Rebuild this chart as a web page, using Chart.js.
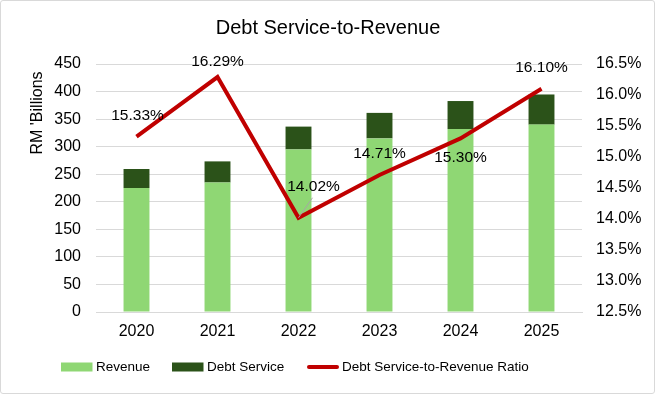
<!DOCTYPE html>
<html>
<head>
<meta charset="utf-8">
<script src="https://cdn.jsdelivr.net/npm/chart.js@4"></script>
<style>
html,body{margin:0;padding:0;background:#fff;}
#wrap{position:relative;width:655px;height:394px;}
#wrap:after{content:"";position:absolute;left:0;top:0;right:0;bottom:0;border:1px solid #d9d9d9;border-radius:3px;pointer-events:none;box-sizing:border-box;}
canvas{display:block;}
</style>
</head>
<body>
<div id="wrap"><canvas id="c" width="655" height="394"></canvas></div>
<script>
const categories = ['2020','2021','2022','2023','2024','2025'];
const revenue = [225, 235, 295, 315, 332, 340];
const debtService = [34.5, 38.3, 41.4, 46.3, 50.8, 54.7];
const ratio = [15.33, 16.29, 14.02, 14.71, 15.30, 16.10];
const leftTicks = [0,50,100,150,200,250,300,350,400,450];
const rightTicks = [12.5,13.0,13.5,14.0,14.5,15.0,15.5,16.0,16.5];

const FONT = '"Liberation Sans", Arial, sans-serif';
const labelOffsets = [[1,-21],[0,-15.5],[15,-31],[0,-21],[0,19],[0,-21]];

const overlay = {
  id:'overlay',
  afterDraw(chart){
    const ctx = chart.ctx;
    ctx.save();
    // title
    ctx.fillStyle = '#000';
    ctx.font = '20px ' + FONT;
    ctx.textAlign = 'center';
    ctx.textBaseline = 'middle';
    ctx.fillText('Debt Service-to-Revenue', 328, 28);
    // y axis title
    ctx.save();
    ctx.translate(38, 113);
    ctx.rotate(-Math.PI/2);
    ctx.font = '16px ' + FONT;
    ctx.fillText("RM 'Billions", 0, 0);
    ctx.restore();
    // data labels
    const meta = chart.getDatasetMeta(2);
    ctx.font = '15.5px ' + FONT;
    meta.data.forEach((pt, i) => {
      const [dx, dy] = labelOffsets[i];
      if (i === 2) {
        ctx.strokeStyle = '#a6a6a6';
        ctx.lineWidth = 1;
        ctx.beginPath();
        ctx.moveTo(pt.x, pt.y);
        ctx.lineTo(pt.x + 14, pt.y - 20);
        ctx.stroke();
      }
      ctx.fillStyle = '#000';
      ctx.fillText(ratio[i].toFixed(2) + '%', pt.x + dx, pt.y + dy);
    });
    // legend
    const items = [
      {x:61, type:'box', color:'#8fd774', text:'Revenue'},
      {x:172, type:'box', color:'#2b5219', text:'Debt Service'},
      {x:307, type:'line', color:'#c00000', text:'Debt Service-to-Revenue Ratio'}
    ];
    const ly = 367;
    ctx.textAlign = 'left';
    ctx.font = '13.5px ' + FONT;
    items.forEach(it => {
      if (it.type === 'box') {
        ctx.fillStyle = it.color;
        ctx.fillRect(it.x, ly - 4.5, 31.5, 9);
      } else {
        ctx.strokeStyle = it.color;
        ctx.lineWidth = 4;
        ctx.lineCap = 'round';
        ctx.beginPath();
        ctx.moveTo(it.x + 2, ly); ctx.lineTo(it.x + 30, ly);
        ctx.stroke();
      }
      ctx.fillStyle = '#000';
      ctx.fillText(it.text, it.x + 35, ly);
    });
    ctx.restore();
  }
};

new Chart(document.getElementById('c'), {
  data: {
    labels: categories,
    datasets: [
      {type:'bar', label:'Revenue', data: revenue, backgroundColor:'#8fd774', stack:'s', yAxisID:'y',
       barPercentage:0.32, categoryPercentage:1.0, order:1},
      {type:'bar', label:'Debt Service', data: debtService, backgroundColor:'#2b5219', stack:'s', yAxisID:'y',
       barPercentage:0.32, categoryPercentage:1.0, order:2},
      {type:'line', label:'Debt Service-to-Revenue Ratio', data: ratio, yAxisID:'y1',
       borderColor:'#c00000', borderWidth:4, pointRadius:0, tension:0, order:0, fill:false}
    ]
  },
  options: {
    responsive:false,
    animation:false,
    devicePixelRatio:1,
    layout:{padding:{left:0,right:0,top:64,bottom:0}},
    plugins:{legend:{display:false}, title:{display:false}, tooltip:{enabled:false}},
    scales:{
      x:{
        stacked:true,
        grid:{display:false, drawTicks:false},
        border:{display:true, color:'#d9d9d9', width:1},
        ticks:{color:'#000', font:{family:FONT, size:16}, padding:10},
        afterFit(s){ s.height = 82; }
      },
      y:{
        stacked:true, position:'left', min:0, max:450,
        afterBuildTicks(s){ s.ticks = leftTicks.map(v=>({value:v})); },
        grid:{color:'#d9d9d9', lineWidth:1, drawTicks:false},
        border:{display:false},
        ticks:{color:'#000', font:{family:FONT, size:16}, padding:15},
        afterFit(s){ s.width = 96; }
      },
      y1:{
        position:'right', min:12.5, max:16.5,
        afterBuildTicks(s){ s.ticks = rightTicks.map(v=>({value:v})); },
        grid:{display:false, drawTicks:false},
        border:{display:false},
        ticks:{color:'#000', font:{family:FONT, size:16}, padding:14, callback:v=>v.toFixed(1)+'%'},
        afterFit(s){ s.width = 73; }
      }
    }
  },
  plugins:[overlay]
});
</script>
</body>
</html>
